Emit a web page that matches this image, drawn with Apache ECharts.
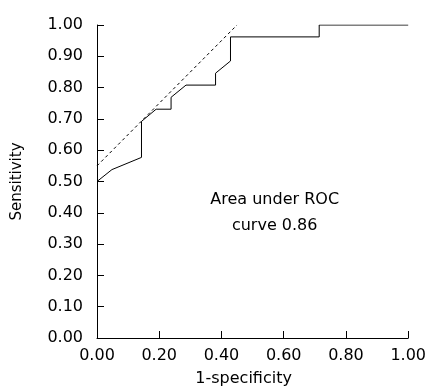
<!DOCTYPE html>
<html><head><meta charset="utf-8">
<script src="https://cdn.jsdelivr.net/npm/echarts@6/dist/echarts.min.js"></script>
<style>html,body{margin:0;padding:0;background:#fff}#c{width:429px;height:392px}</style>
</head><body><div id="c"></div>
<script>
// ROC curve vertices (1-specificity, sensitivity)
const fpr = [0, 0.048, 0.143, 0.143, 0.190, 0.238, 0.238, 0.286, 0.381, 0.381, 0.429, 0.429, 0.714, 0.714, 1.0];
const tpr = [0.500, 0.538, 0.577, 0.692, 0.731, 0.731, 0.769, 0.808, 0.808, 0.846, 0.885, 0.962, 0.962, 1.0, 1.0];
// dashed reference line endpoints
const refX = [0, 0.45];
const refY = [0.55, 1.0];
const annotation = ['Area under ROC', 'curve 0.86'];

const font = 'DejaVu Sans';
const chart = echarts.init(document.getElementById('c'));
const axisCommon = {
  min: 0, max: 1,
  axisLine: {show: true, lineStyle: {color: '#000', width: 1}},
  axisTick: {show: true, inside: true, length: 7, lineStyle: {color: '#000'}},
  splitLine: {show: false},
  axisLabel: {color: '#000', fontFamily: font, fontSize: 16, formatter: v => v.toFixed(2)},
  nameLocation: 'middle'
};
chart.setOption({
  animation: false,
  grid: {left: 97, right: 20, top: 25, bottom: 54},
  xAxis: Object.assign({}, axisCommon, {
    type: 'value', interval: 0.2, name: '1-specificity', nameGap: 33,
    nameTextStyle: {color: '#000', fontFamily: font, fontSize: 16, padding: [0, 18, 0, 0]},
    axisLabel: Object.assign({}, axisCommon.axisLabel, {margin: 10})
  }),
  yAxis: Object.assign({}, axisCommon, {
    type: 'value', interval: 0.1, name: 'Sensitivity', nameGap: 72,
    nameTextStyle: {color: '#000', fontFamily: font, fontSize: 15},
    axisLabel: Object.assign({}, axisCommon.axisLabel, {margin: 14})
  }),
  series: [
    {type: 'line', data: fpr.map((x, i) => [x, tpr[i]]), symbol: 'none',
     lineStyle: {color: '#000', width: 1}},
    {type: 'line', data: refX.map((x, i) => [x, refY[i]]), symbol: 'none',
     lineStyle: {color: '#000', width: 1, type: [3, 3]}}
  ]
});
const c = chart.convertToPixel({gridIndex: 0}, [0.571, 0.40]);
chart.setOption({graphic: [
  {type: 'text', x: c[0], y: c[1], style: {text: annotation.join('\n'), fontFamily: font, fontSize: 16,
    lineHeight: 26, fill: '#000', align: 'center', verticalAlign: 'middle'}}
]});
</script></body></html>
